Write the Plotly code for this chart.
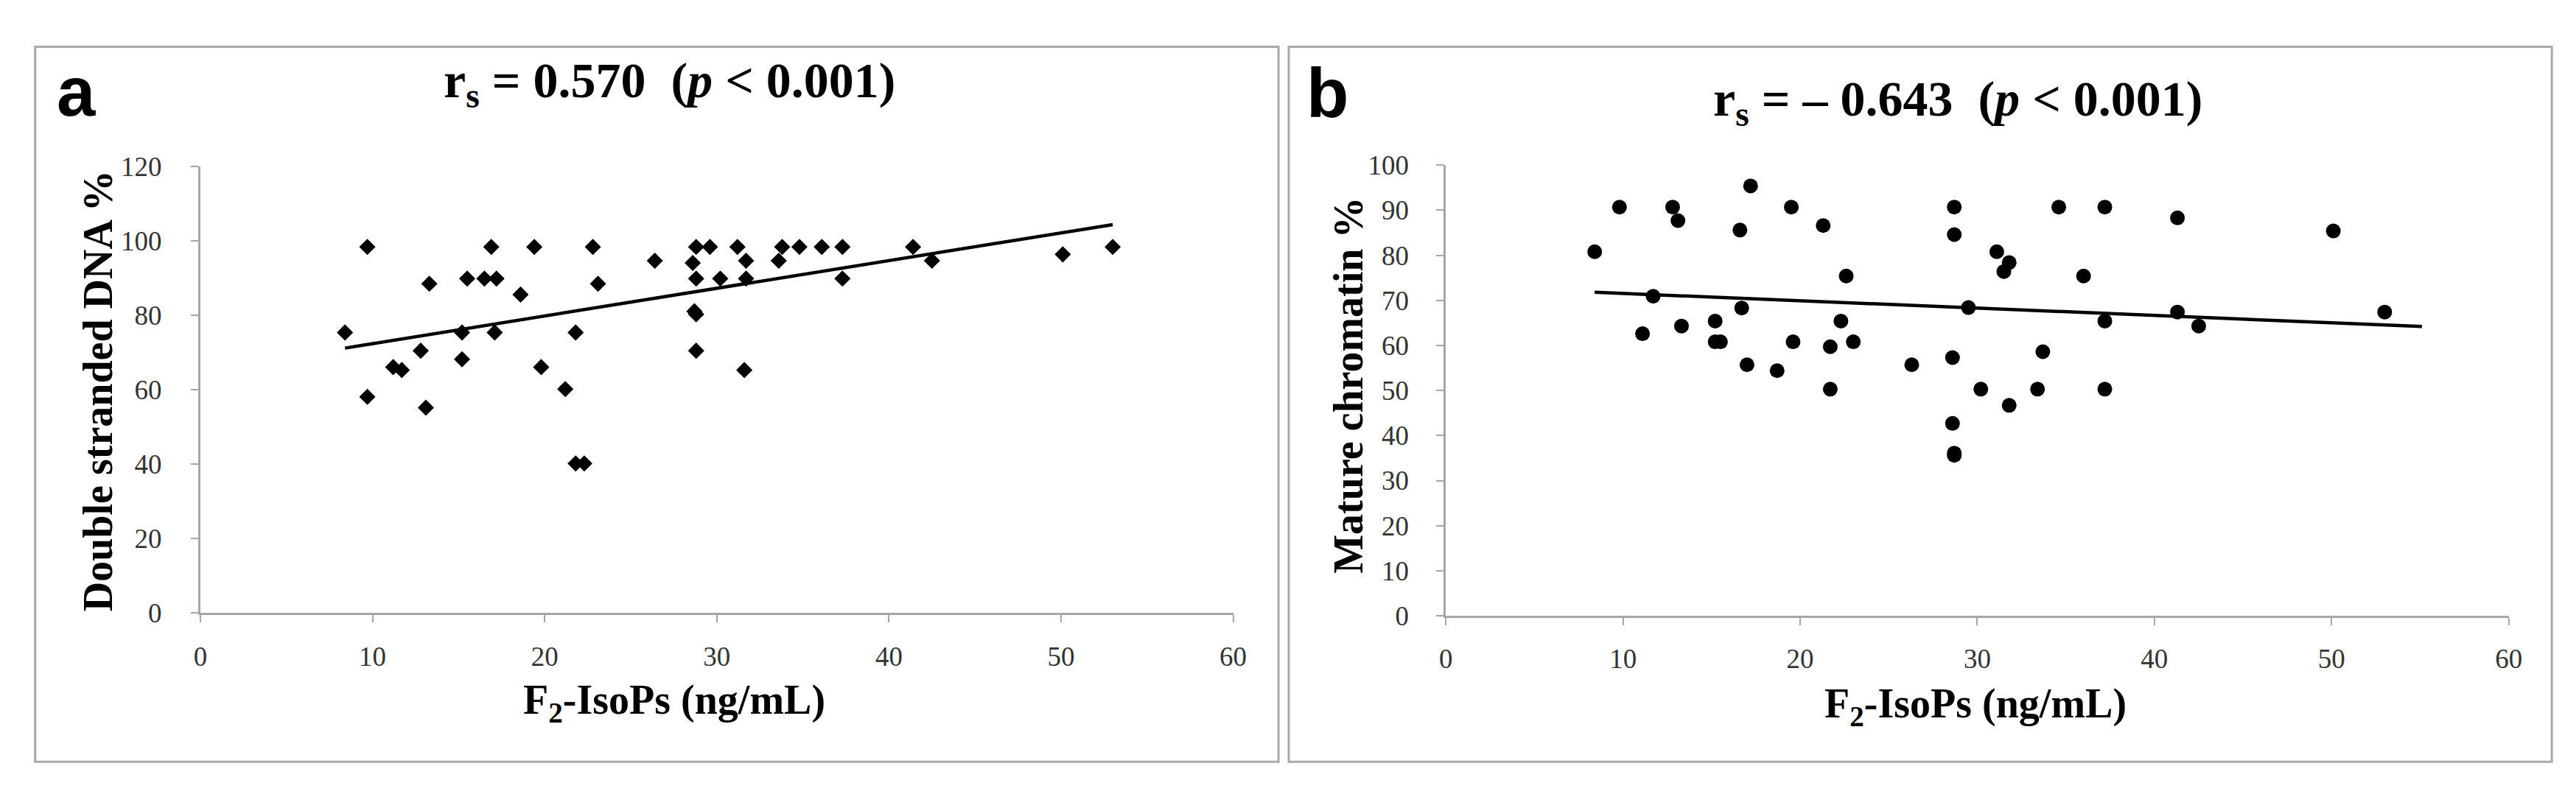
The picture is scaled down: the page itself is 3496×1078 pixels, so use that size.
import plotly.graph_objects as go

# ---------------- data ----------------
# Panel a: F2-IsoPs (ng/mL) vs Double stranded DNA %
A_X = [8.4, 9.7, 9.7, 11.2, 11.7, 12.8, 13.1, 13.3, 15.2, 15.2,
       15.5, 16.5, 16.9, 17.1, 17.2, 18.6, 19.4, 19.8, 21.2, 21.8,
       21.8, 22.3, 22.8, 23.1, 26.4, 28.6, 28.8, 28.8, 28.7, 28.8,
       28.8, 29.6, 30.2, 31.2, 31.7, 31.7, 31.6, 33.6, 33.8, 34.8,
       36.1, 37.3, 37.3, 41.4, 42.5, 50.1, 53.0]
A_Y = [75.4, 98.4, 58.1, 66.1, 65.3, 70.5, 55.2, 88.5, 75.4, 68.2,
       89.9, 89.9, 98.4, 75.4, 89.9, 85.6, 98.4, 66.1, 60.2, 75.4,
       40.2, 40.2, 98.4, 88.5, 94.7, 94.1, 98.4, 89.9, 81.1, 80.3,
       70.5, 98.4, 89.9, 98.4, 94.7, 89.9, 65.3, 94.7, 98.4, 98.4,
       98.4, 98.4, 89.9, 98.4, 94.7, 96.4, 98.4]
TREND_A_X = [8.4, 53.0]
TREND_A_Y = [71.2, 104.4]

# Panel b: F2-IsoPs (ng/mL) vs Mature chromatin %
B_X = [8.4, 9.8, 11.1, 11.7, 12.8, 13.1, 13.3, 15.2, 15.2, 15.5,
       16.6, 16.7, 17.0, 17.2, 18.7, 19.5, 19.6, 21.3, 21.7, 21.7,
       22.3, 22.6, 23.0, 26.3, 28.6, 28.6, 28.7, 28.7, 28.7, 28.7,
       29.5, 30.2, 31.1, 31.5, 31.8, 31.8, 33.4, 33.7, 34.6, 36.0,
       37.2, 37.2, 37.2, 41.3, 41.3, 42.5, 50.1, 53.0]
B_Y = [80.8, 90.7, 62.6, 70.9, 90.7, 87.7, 64.3, 65.4, 60.8, 60.8,
       85.6, 68.3, 55.7, 95.4, 54.4, 90.7, 60.8, 86.6, 59.7, 50.3,
       65.4, 75.4, 60.8, 55.7, 57.3, 42.7, 90.7, 84.6, 36.1, 35.6,
       68.4, 50.3, 80.8, 76.4, 78.4, 46.7, 50.3, 58.6, 90.7, 75.4,
       90.7, 65.4, 50.3, 88.3, 67.4, 64.3, 85.4, 67.4]
TREND_B_X = [8.4, 55.1]
TREND_B_Y = [71.8, 64.2]

X_TICKS = [0, 10, 20, 30, 40, 50, 60]
A_Y_TICKS = [0, 20, 40, 60, 80, 100, 120]
B_Y_TICKS = [0, 10, 20, 30, 40, 50, 60, 70, 80, 90, 100]

TITLE_A = "r<sub>s</sub> = 0.570&nbsp;&nbsp;(<i>p</i> &lt; 0.001)"
TITLE_B = "r<sub>s</sub> = – 0.643&nbsp;&nbsp;(<i>p</i> &lt; 0.001)"
YLAB_A = "Double stranded DNA %"
YLAB_B = "Mature chromatin %"
XLAB = "F<sub>2</sub>-IsoPs (ng/mL)"

# ---------------- layout helpers ----------------
W, H = 3496, 1078
def fx(p):
    return p / W
def fy(p):
    return 1 - p / H

SERIF = "Liberation Serif"
AXCOL = "#a6a6a6"

fig = go.Figure()
fig.add_trace(go.Scatter(x=A_X, y=A_Y, mode="markers", xaxis="x", yaxis="y",
                         marker=dict(symbol="diamond", size=17, color="black"),
                         cliponaxis=False, showlegend=False))
fig.add_trace(go.Scatter(x=TREND_A_X, y=TREND_A_Y, mode="lines", xaxis="x", yaxis="y",
                         line=dict(color="black", width=4.5), cliponaxis=False,
                         showlegend=False))
fig.add_trace(go.Scatter(x=B_X, y=B_Y, mode="markers", xaxis="x2", yaxis="y2",
                         marker=dict(symbol="circle", size=20, color="black"),
                         cliponaxis=False, showlegend=False))
fig.add_trace(go.Scatter(x=TREND_B_X, y=TREND_B_Y, mode="lines", xaxis="x2", yaxis="y2",
                         line=dict(color="black", width=4.5), cliponaxis=False,
                         showlegend=False))

common = dict(showline=True, linecolor=AXCOL, linewidth=3, ticks="outside",
              ticklen=10, tickwidth=2, tickcolor=AXCOL, showgrid=False,
              zeroline=False, fixedrange=True,
              tickfont=dict(family=SERIF, size=37, color="#333333"))

fig.update_layout(
    width=W, height=H, margin=dict(l=0, r=0, t=0, b=0),
    paper_bgcolor="white", plot_bgcolor="white",
    xaxis=dict(domain=[fx(257), fx(1670)], range=[0, 60], tickvals=X_TICKS,
               anchor="y", ticklabelstandoff=14, **common),
    yaxis=dict(domain=[fy(836), fy(206)], range=[0, 120], tickvals=A_Y_TICKS,
               anchor="x", ticklabelstandoff=32, **common),
    xaxis2=dict(domain=[fx(1961), fx(3415)], range=[0, 60], tickvals=X_TICKS,
                anchor="y2", ticklabelstandoff=14, **common),
    yaxis2=dict(domain=[fy(840), fy(204)], range=[0, 100], tickvals=B_Y_TICKS,
                anchor="x2", ticklabelstandoff=30, **common),
)

# panel frames
for x0, x1 in [(31, 1732), (1746, 3474)]:
    fig.add_shape(type="rect", xref="paper", yref="paper",
                  x0=fx(x0), x1=fx(x1), y0=fy(1046), y1=fy(37),
                  line=dict(color="#a9a9a9", width=3), fillcolor="rgba(0,0,0,0)",
                  layer="below")

def ann(text, x, y, size, family=SERIF, angle=0, xanchor="center", color="black"):
    fig.add_annotation(text=text, xref="paper", yref="paper", x=fx(x), y=fy(y),
                       xanchor=xanchor, yanchor="middle", showarrow=False,
                       textangle=angle, font=dict(family=family, size=size, color=color))

# panel letters
ann("<b>a</b>", 58, 100, 94, family="Liberation Sans", xanchor="left")
ann("<b>b</b>", 1768, 102, 94, family="Liberation Sans", xanchor="left")
# titles
ann("<b>" + TITLE_A + "</b>", 899, 89, 68)
ann("<b>" + TITLE_B + "</b>", 2662, 115, 68)
# y axis titles
ann("<b>" + YLAB_A + "</b>", 117, 523, 56, angle=-90)
ann("<b>" + YLAB_B + "</b>", 1828, 515, 56, angle=-90)
# x axis titles
ann("<b>" + XLAB + "</b>", 905, 963, 56)
ann("<b>" + XLAB + "</b>", 2686, 968, 56)

fig.write_html("out.html")
